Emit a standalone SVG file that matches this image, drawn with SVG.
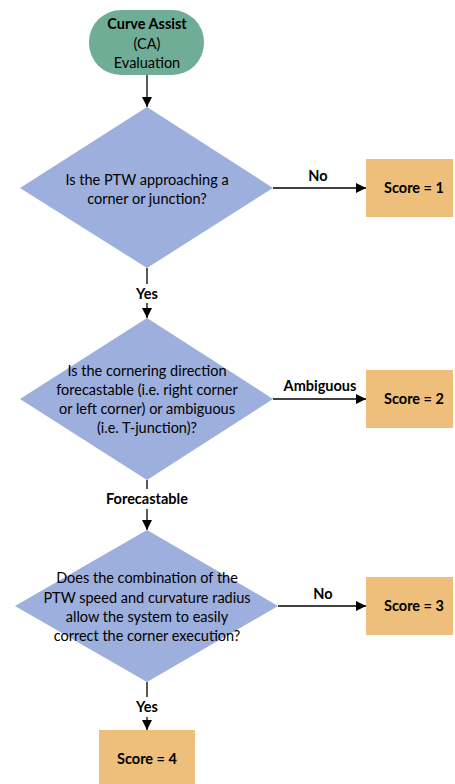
<svg xmlns="http://www.w3.org/2000/svg" width="455" height="784" viewBox="0 0 455 784">
<defs>
<style>
.t{font-family:Lato,"Liberation Sans",sans-serif;font-size:14.5px;fill:#000;text-anchor:middle}
.b{font-weight:bold}
.start{fill:#70ad96}
.dec{fill:#9dafdd}
.res{fill:#eebf7b}
.c{stroke:#000;stroke-width:1.3;fill:none;marker-end:url(#ah)}
</style>
<marker id="ah" viewBox="0 0 10 10" refX="10" refY="5" markerUnits="userSpaceOnUse" markerWidth="10" markerHeight="10" orient="auto">
<path d="M0,0 L10,5 L0,10 z" fill="#000"/>
</marker>
</defs>
<rect width="455" height="784" fill="#fff"/>
<g id="connectors">
<path class="c" d="M147,75 V107"/>
<path class="c" d="M273,188 H366"/>
<path class="c" d="M147,268 V284 M147,303 V318"/>
<path class="c" d="M273,399 H366"/>
<path class="c" d="M147,480 V489 M147,509 V530"/>
<path class="c" d="M278,606 H366"/>
<path class="c" d="M147,682 V697 M147,717 V730"/>
<text class="t b" x="318" y="181">No</text>
<text class="t b" x="147" y="299">Yes</text>
<text class="t b" x="320" y="391">Ambiguous</text>
<text class="t b" x="147" y="504">Forecastable</text>
<text class="t b" x="323" y="599">No</text>
<text class="t b" x="147" y="712">Yes</text>
</g>
<g id="start">
<rect class="start" x="89" y="10" width="115" height="65" rx="32" ry="32"/>
<text class="t b" x="147" y="29">Curve Assist</text>
<text class="t" x="147" y="49">(CA)</text>
<text class="t" x="147" y="68">Evaluation</text>
</g>
<g id="d1">
<polygon class="dec" points="147,107 273,188 147,268 20,188"/>
<text class="t" x="147" y="185">Is the PTW approaching a</text>
<text class="t" x="147" y="204">corner or junction?</text>
</g>
<g id="s1">
<rect class="res" x="366" y="159" width="87" height="58"/>
<text class="t b" x="414" y="193">Score = 1</text>
</g>
<g id="d2">
<polygon class="dec" points="147,318 273,399 147,480 20,399"/>
<text class="t" x="147" y="376">Is the cornering direction</text>
<text class="t" x="147" y="395">forecastable (i.e. right corner</text>
<text class="t" x="147" y="414">or left corner) or ambiguous</text>
<text class="t" x="147" y="433">(i.e. T-junction)?</text>
</g>
<g id="s2">
<rect class="res" x="366" y="370" width="87" height="58"/>
<text class="t b" x="414" y="404">Score = 2</text>
</g>
<g id="d3">
<polygon class="dec" points="147,530 278,606 147,682 15,606"/>
<text class="t" x="147" y="583">Does the combination of the</text>
<text class="t" x="147" y="603">PTW speed and curvature radius</text>
<text class="t" x="147" y="622">allow the system to easily</text>
<text class="t" x="147" y="641">correct the corner execution?</text>
</g>
<g id="s3">
<rect class="res" x="366" y="577" width="87" height="58"/>
<text class="t b" x="414" y="611">Score = 3</text>
</g>
<g id="s4">
<rect class="res" x="99" y="730" width="96" height="58"/>
<text class="t b" x="147" y="764">Score = 4</text>
</g>
</svg>
